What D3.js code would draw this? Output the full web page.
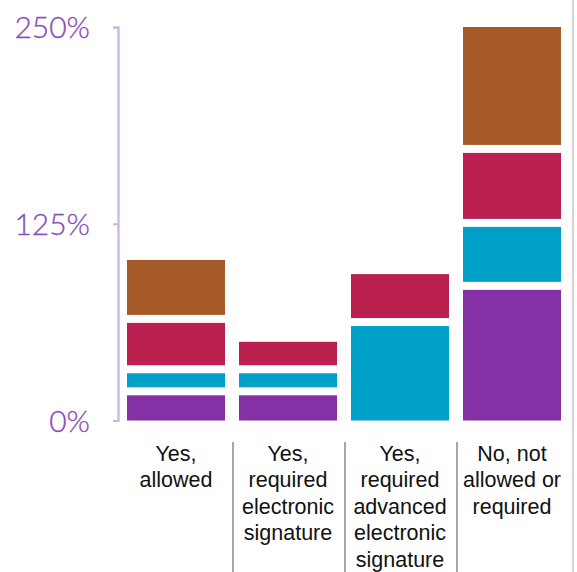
<!DOCTYPE html>
<html>
<head>
<meta charset="utf-8">
<script src="https://cdn.jsdelivr.net/npm/d3@7"></script>
<style>
  html, body { margin: 0; padding: 0; background: #fff; }
  svg { display: block; }
</style>
</head>
<body>
<svg id="chart" width="577" height="572"></svg>
<script>
const categories = [
  ["Yes,", "allowed"],
  ["Yes,", "required", "electronic", "signature"],
  ["Yes,", "required", "advanced", "electronic", "signature"],
  ["No, not", "allowed or", "required"]
];
const seriesNames = ["s1", "s2", "s3", "s4"];
const s1 = [16, 16, 0, 83];
const s2 = [14, 14, 60, 40];
const s3 = [32, 20, 33, 47];
const s4 = [40, 0, 0, 80];
const colors = ["#8431a6", "#00a0c8", "#ba2151", "#a65a28"];
const tickValues = [0, 125, 250];

const svg = d3.select("#chart");
const W = 577, H = 572;
const gap = 8;

const rows = categories.map((c, i) => ({ i, s1: s1[i], s2: s2[i], s3: s3[i], s4: s4[i] }));
const stack = d3.stack().keys(seriesNames)(rows);

const x = d3.scaleBand().domain(d3.range(categories.length)).range([120, 568]).paddingInner(0.125).paddingOuter(0.0625);
const y = d3.scaleLinear().domain([0, 250]).range([420.5, 27]);

// right border line
svg.append("line").attr("x1", 573).attr("x2", 573).attr("y1", 0).attr("y2", H)
  .attr("stroke", "#d4d4d4").attr("stroke-width", 2);

// bars
stack.forEach((layer, si) => {
  svg.append("g").selectAll("rect").data(layer.filter(d => d[1] - d[0] > 0)).join("rect")
    .attr("x", d => x(d.data.i))
    .attr("width", x.bandwidth())
    .attr("y", d => y(d[1]))
    .attr("height", d => (y(d[0]) - (d[0] > 0 ? gap : 0)) - y(d[1]))
    .attr("fill", colors[si]);
});

// y axis
const axisG = svg.append("g").attr("transform", "translate(118,0)");
const axis = d3.axisLeft(y).tickValues(tickValues).tickFormat(d => d + "%").tickSize(5).tickSizeOuter(5);
axisG.call(axis);
axisG.select(".domain").attr("stroke", "#cdb0e6").attr("stroke-width", 2.2);
axisG.selectAll(".tick line").attr("stroke", "#cdb0e6").attr("stroke-width", 2);
axisG.selectAll(".tick text")
  .attr("x", -28)
  .attr("dy", "0.36em")
  .attr("fill", "#8a4cb8")
  .attr("stroke", "#8a4cb8")
  .attr("stroke-width", 0.3)
  .attr("font-family", "Lato, 'Liberation Sans', Arial, sans-serif")
  .attr("font-size", 30)
  .attr("font-weight", 300);

// category dividers
const step = x.step();
for (let i = 1; i < categories.length; i++) {
  const xd = x(i) - (step - x.bandwidth()) / 2 + 1;
  svg.append("line").attr("x1", xd).attr("x2", xd).attr("y1", 442).attr("y2", H)
    .attr("stroke", "#a8a8a8").attr("stroke-width", 2);
}

// category labels
categories.forEach((lines, i) => {
  const t = svg.append("text")
    .attr("x", x(i) + x.bandwidth() / 2)
    .attr("y", 461)
    .attr("text-anchor", "middle")
    .attr("font-family", "'Liberation Sans', Arial, sans-serif")
    .attr("font-size", 21.5)
    .attr("fill", "#111");
  lines.forEach((ln, k) => {
    t.append("tspan").attr("x", x(i) + x.bandwidth() / 2).attr("dy", k === 0 ? 0 : 26.4).text(ln);
  });
});
</script>
</body>
</html>
